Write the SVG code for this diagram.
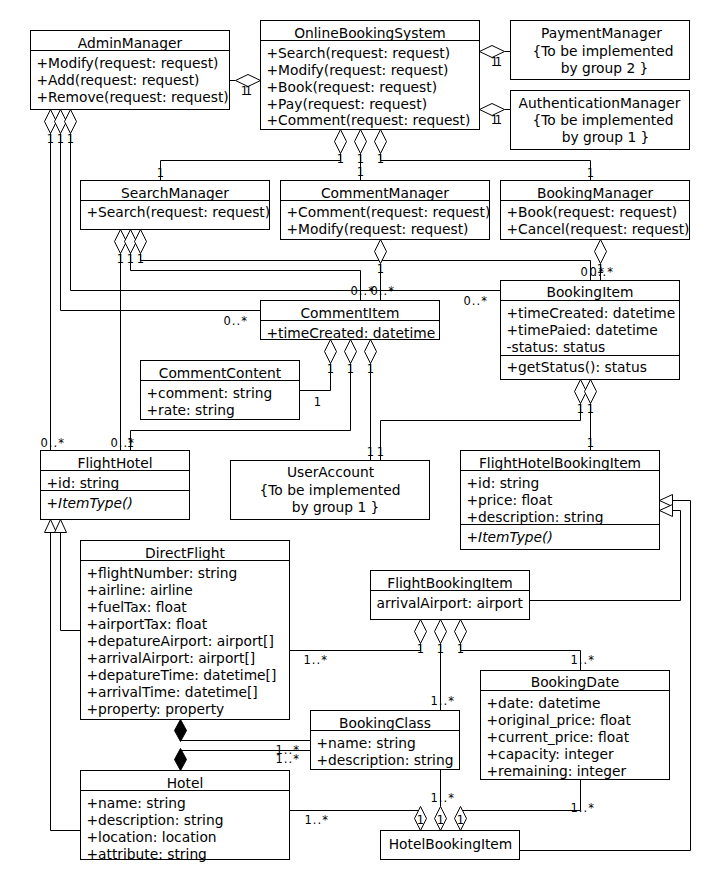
<svg xmlns="http://www.w3.org/2000/svg" width="720" height="880" viewBox="0 0 720 880">
<style>
.box{fill:#fff;stroke:#000;stroke-width:1}
.ln{fill:none;stroke:#000;stroke-width:1}
.agg{fill:#fff;stroke:#000;stroke-width:1}
.comp{fill:#000;stroke:#000;stroke-width:1}
.gen{fill:#fff;stroke:#000;stroke-width:1}
text{font-family:"DejaVu Sans","Liberation Sans",sans-serif;font-size:13.8px;fill:#000}
.c{text-anchor:middle}
.i{font-style:italic}
.m{font-size:11.5px;letter-spacing:1px}
.mc{font-size:11.5px;text-anchor:middle}
</style>
<rect width="720" height="880" fill="#fff"/>
<g transform="translate(0.5,0.5)">
<g id="connectors">
<!-- AdminManager - OBS -->
<path class="ln" d="M229,80 H235"/>
<polygon class="agg" points="260,80 247.5,74 235,80 247.5,86"/>
<!-- OBS - Payment / Auth -->
<path class="ln" d="M504,51 H510"/>
<polygon class="agg" points="479,51 491.5,45 504,51 491.5,57"/>
<path class="ln" d="M504,109 H510"/>
<polygon class="agg" points="479,109 491.5,103 504,109 491.5,115"/>
<!-- OBS to managers -->
<path class="ln" d="M340,153 V160 H160 V180"/>
<path class="ln" d="M360,153 V180"/>
<path class="ln" d="M380,153 V160 H590 V180"/>
<polygon class="agg" points="340,129 346,141 340,153 334,141"/>
<polygon class="agg" points="360,129 366,141 360,153 354,141"/>
<polygon class="agg" points="380,129 386,141 380,153 374,141"/>
<!-- AdminManager down -->
<path class="ln" d="M50,133 V450"/>
<path class="ln" d="M60,133 V310 H260"/>
<path class="ln" d="M70,133 V290 H500"/>
<polygon class="agg" points="50,109 56,121 50,133 44,121"/>
<polygon class="agg" points="60,109 66,121 60,133 54,121"/>
<polygon class="agg" points="70,109 76,121 70,133 64,121"/>
<!-- SearchManager down -->
<path class="ln" d="M120,253 V450"/>
<path class="ln" d="M130,253 V270 H360 V300"/>
<path class="ln" d="M140,253 V260 H590 V280"/>
<polygon class="agg" points="120,229 126,241 120,253 114,241"/>
<polygon class="agg" points="130,229 136,241 130,253 124,241"/>
<polygon class="agg" points="140,229 146,241 140,253 134,241"/>
<!-- CommentManager / BookingManager -->
<path class="ln" d="M380,263 V300"/>
<polygon class="agg" points="380,239 386,251 380,263 374,251"/>
<path class="ln" d="M600,263 V280"/>
<polygon class="agg" points="600,239 606,251 600,263 594,251"/>
<!-- CommentItem down -->
<path class="ln" d="M330,363 V390 H299"/>
<path class="ln" d="M350,363 V430 H130 V450"/>
<path class="ln" d="M370,363 V460"/>
<polygon class="agg" points="330,339 336,351 330,363 324,351"/>
<polygon class="agg" points="350,339 356,351 350,363 344,351"/>
<polygon class="agg" points="370,339 376,351 370,363 364,351"/>
<!-- BookingItem down -->
<path class="ln" d="M580,403 V420 H380 V460"/>
<path class="ln" d="M590,403 V450"/>
<polygon class="agg" points="580,379 586,391 580,403 574,391"/>
<polygon class="agg" points="590,379 596,391 590,403 584,391"/>
<!-- generalization to FlightHotel -->
<path class="ln" d="M50,532 V830 H80"/>
<path class="ln" d="M60,532 V630 H80"/>
<polygon class="gen" points="50,519 56,532 44,532"/>
<polygon class="gen" points="60,519 66,532 54,532"/>
<!-- generalization to FlightHotelBookingItem -->
<path class="ln" d="M672,500 H690 V850 H519"/>
<path class="ln" d="M672,510 H680 V600 H529"/>
<polygon class="gen" points="659,500 672,494 672,506"/>
<polygon class="gen" points="659,510 672,504 672,516"/>
<!-- FlightBookingItem down -->
<path class="ln" d="M420,643 V650 H289"/>
<path class="ln" d="M440,643 V710"/>
<path class="ln" d="M460,643 V650 H580 V670"/>
<polygon class="agg" points="420,619 426,631 420,643 414,631"/>
<polygon class="agg" points="440,619 446,631 440,643 434,631"/>
<polygon class="agg" points="460,619 466,631 460,643 454,631"/>
<!-- compositions -->
<path class="ln" d="M180,740 H310"/>
<path class="ln" d="M180,750 H310"/>
<polygon class="comp" points="180,719 186,730 180,741 174,730"/>
<polygon class="comp" points="180,748 186,759 180,770 174,759"/>
<!-- HotelBookingItem up -->
<path class="ln" d="M289,810 H420"/>
<path class="ln" d="M440,806 V769"/>
<path class="ln" d="M460,810 H580 V779"/>
<polygon class="agg" points="420,806 426,818 420,830 414,818"/>
<polygon class="agg" points="440,806 446,818 440,830 434,818"/>
<polygon class="agg" points="460,806 466,818 460,830 454,818"/>
<!-- multiplicity labels -->
<text class="mc" x="244" y="94">1</text><text class="mc" x="248" y="94">1</text>
<text class="mc" x="494" y="65">1</text><text class="mc" x="498" y="65">1</text>
<text class="mc" x="494" y="123">1</text><text class="mc" x="498" y="123">1</text>
<text class="mc" x="340" y="162">1</text><text class="mc" x="360" y="162">1</text><text class="mc" x="380" y="162">1</text>
<text class="mc" x="160" y="176">1</text><text class="mc" x="360" y="175">1</text><text class="mc" x="590" y="176">1</text>
<text class="mc" x="50" y="142">1</text><text class="mc" x="60" y="142">1</text><text class="mc" x="70" y="142">1</text>
<text class="mc" x="120" y="262">1</text><text class="mc" x="130" y="262">1</text><text class="mc" x="140" y="262">1</text>
<text class="mc" x="380" y="272">1</text><text class="mc" x="600" y="272">1</text>
<text class="mc" x="330" y="372">1</text><text class="mc" x="350" y="372">1</text><text class="mc" x="370" y="372">1</text>
<text class="mc" x="580" y="412">1</text><text class="mc" x="590" y="412">1</text>
<text class="mc" x="317" y="405">1</text>
<text class="mc" x="130" y="446">1</text>
<text class="mc" x="370" y="455">1</text><text class="mc" x="380" y="455">1</text>
<text class="mc" x="590" y="446">1</text>
<text class="mc" x="420" y="652">1</text><text class="mc" x="440" y="652">1</text><text class="mc" x="460" y="652">1</text>
<text class="mc" x="420" y="823">1</text><text class="mc" x="440" y="823">1</text><text class="mc" x="460" y="823">1</text>
<text class="m" x="40" y="446">0..*</text>
<text class="m" x="110" y="446">0..*</text>
<text class="m" x="223" y="324">0..*</text>
<text class="m" x="463" y="304">0..*</text>
<text class="m" x="350" y="294">0..*</text>
<text class="m" x="370" y="294">0..*</text>
<text class="m" x="580" y="275">0..*</text>
<text class="m" x="589" y="275">0..*</text>
<text class="m" x="303" y="663">1..*</text>
<text class="m" x="430" y="704">1..*</text>
<text class="m" x="570" y="663">1..*</text>
<text class="m" x="275" y="753">1..*</text>
<text class="m" x="275" y="762">1..*</text>
<text class="m" x="304" y="823">1..*</text>
<text class="m" x="430" y="801">1..*</text>
<text class="m" x="570" y="811">1..*</text>
</g>

<g id="AdminManager">
<rect class="box" x="30" y="30" width="199" height="79"/>
<path class="ln" d="M30,50 H229"/>
<text class="c" x="129.5" y="47">AdminManager</text>
<text x="36" y="67">+Modify(request: request)</text>
<text x="36" y="84">+Add(request: request)</text>
<text x="36" y="101">+Remove(request: request)</text>
</g>
<g id="OnlineBookingSystem">
<rect class="box" x="260" y="20" width="219" height="109"/>
<path class="ln" d="M260,40 H479"/>
<text class="c" x="369.5" y="37">OnlineBookingSystem</text>
<text x="266" y="57">+Search(request: request)</text>
<text x="266" y="74">+Modify(request: request)</text>
<text x="266" y="91">+Book(request: request)</text>
<text x="266" y="108">+Pay(request: request)</text>
<text x="266" y="124.5">+Comment(request: request)</text>
</g>
<g id="PaymentManager">
<rect class="box" x="510" y="20" width="179" height="59"/>
<text class="c" x="601" y="37">PaymentManager</text>
<text class="c" x="602.5" y="55">{To be implemented</text>
<text class="c" x="604" y="72">by group 2 }</text>
</g>
<g id="AuthenticationManager">
<rect class="box" x="510" y="90" width="179" height="59"/>
<text class="c" x="599" y="107.5">AuthenticationManager</text>
<text class="c" x="602.5" y="124.5">{To be implemented</text>
<text class="c" x="605" y="141">by group 1 }</text>
</g>
<g id="SearchManager">
<rect class="box" x="80" y="180" width="189" height="49"/>
<path class="ln" d="M80,200 H269"/>
<text class="c" x="174.5" y="197">SearchManager</text>
<text x="86" y="216">+Search(request: request)</text>
</g>
<g id="CommentManager">
<rect class="box" x="280" y="180" width="209" height="59"/>
<path class="ln" d="M280,200 H489"/>
<text class="c" x="384.5" y="197">CommentManager</text>
<text x="286" y="216">+Comment(request: request)</text>
<text x="286" y="233">+Modify(request: request)</text>
</g>
<g id="BookingManager">
<rect class="box" x="500" y="180" width="189" height="59"/>
<path class="ln" d="M500,200 H689"/>
<text class="c" x="594.5" y="197">BookingManager</text>
<text x="506" y="216">+Book(request: request)</text>
<text x="506" y="233">+Cancel(request: request)</text>
</g>
<g id="CommentItem">
<rect class="box" x="260" y="300" width="179" height="39"/>
<path class="ln" d="M260,320 H439"/>
<text class="c" x="349.5" y="317">CommentItem</text>
<text x="266" y="337">+timeCreated: datetime</text>
</g>
<g id="BookingItem">
<rect class="box" x="500" y="280" width="179" height="99"/>
<path class="ln" d="M500,300 H679 M500,355 H679"/>
<text class="c" x="589.5" y="296.5">BookingItem</text>
<text x="506" y="317">+timeCreated: datetime</text>
<text x="506" y="334">+timePaied: datetime</text>
<text x="506" y="351">-status: status</text>
<text x="506" y="371">+getStatus(): status</text>
</g>
<g id="CommentContent">
<rect class="box" x="140" y="360" width="159" height="59"/>
<path class="ln" d="M140,380 H299"/>
<text class="c" x="219.5" y="377">CommentContent</text>
<text x="146" y="397">+comment: string</text>
<text x="146" y="414">+rate: string</text>
</g>
<g id="FlightHotel">
<rect class="box" x="40" y="450" width="149" height="69"/>
<path class="ln" d="M40,470 H189 M40,490 H189"/>
<text class="c" x="114.5" y="467">FlightHotel</text>
<text x="46" y="487">+id: string</text>
<text x="46" y="507">+<tspan class="i">ItemType()</tspan></text>
</g>
<g id="UserAccount">
<rect class="box" x="230" y="460" width="199" height="59"/>
<text class="c" x="330" y="476.5">UserAccount</text>
<text class="c" x="329.5" y="494">{To be implemented</text>
<text class="c" x="335" y="511">by group 1 }</text>
</g>
<g id="FlightHotelBookingItem">
<rect class="box" x="460" y="450" width="199" height="99"/>
<path class="ln" d="M460,470 H659 M460,524 H659"/>
<text class="c" x="559.5" y="467">FlightHotelBookingItem</text>
<text x="466" y="487">+id: string</text>
<text x="466" y="504">+price: float</text>
<text x="466" y="521">+description: string</text>
<text x="466" y="541">+<tspan class="i">ItemType()</tspan></text>
</g>
<g id="DirectFlight">
<rect class="box" x="80" y="540" width="209" height="179"/>
<path class="ln" d="M80,560 H289"/>
<text class="c" x="184.5" y="557">DirectFlight</text>
<text x="86" y="577">+flightNumber: string</text>
<text x="86" y="594">+airline: airline</text>
<text x="86" y="611">+fuelTax: float</text>
<text x="86" y="628">+airportTax: float</text>
<text x="86" y="645">+depatureAirport: airport[]</text>
<text x="86" y="662">+arrivalAirport: airport[]</text>
<text x="86" y="679">+depatureTime: datetime[]</text>
<text x="86" y="696">+arrivalTime: datetime[]</text>
<text x="86" y="713">+property: property</text>
</g>
<g id="FlightBookingItem">
<rect class="box" x="370" y="570" width="159" height="49"/>
<path class="ln" d="M370,590 H529"/>
<text class="c" x="449.5" y="587">FlightBookingItem</text>
<text x="376" y="607.5">arrivalAirport: airport</text>
</g>
<g id="BookingDate">
<rect class="box" x="480" y="670" width="189" height="109"/>
<path class="ln" d="M480,690 H669"/>
<text class="c" x="574.5" y="686.5">BookingDate</text>
<text x="486" y="707">+date: datetime</text>
<text x="486" y="724">+original_price: float</text>
<text x="486" y="741">+current_price: float</text>
<text x="486" y="758">+capacity: integer</text>
<text x="486" y="775">+remaining: integer</text>
</g>
<g id="BookingClass">
<rect class="box" x="310" y="710" width="149" height="59"/>
<path class="ln" d="M310,730 H459"/>
<text class="c" x="384.5" y="727">BookingClass</text>
<text x="316" y="747">+name: string</text>
<text x="316" y="764">+description: string</text>
</g>
<g id="Hotel">
<rect class="box" x="80" y="770" width="209" height="89"/>
<path class="ln" d="M80,790 H289"/>
<text class="c" x="184.5" y="787">Hotel</text>
<text x="86" y="807">+name: string</text>
<text x="86" y="824">+description: string</text>
<text x="86" y="841">+location: location</text>
<text x="86" y="858">+attribute: string</text>
</g>
<g id="HotelBookingItem">
<rect class="box" x="380" y="830" width="139" height="29"/>
<text class="c" x="450" y="848">HotelBookingItem</text>
</g>
</g>
</svg>
